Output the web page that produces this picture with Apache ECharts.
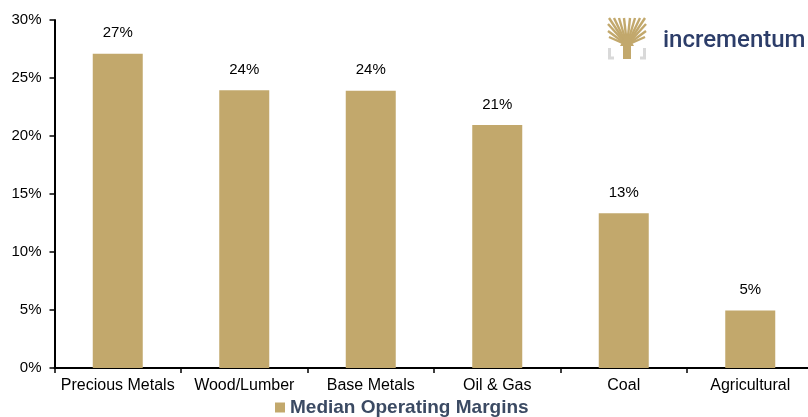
<!DOCTYPE html>
<html>
<head>
<meta charset="utf-8">
<script src="https://cdn.jsdelivr.net/npm/echarts@6/dist/echarts.min.js"></script>
<style>html,body{margin:0;padding:0;background:#fff;overflow:hidden;width:808px;height:417px;}#c{width:816px;height:417px;}</style>
</head>
<body>
<div id="c"></div>
<script>
const categories = ['Precious Metals', 'Wood/Lumber', 'Base Metals', 'Oil & Gas', 'Coal', 'Agricultural'];
const margins = [27.1, 23.95, 23.9, 20.95, 13.35, 4.95];
const seriesName = 'Median Operating Margins';
const yTicks = { min: 0, max: 30, interval: 5 };

const gold = '#C2A86C';
const chart = echarts.init(document.getElementById('c'));

// simple tree logo built from primitives
const branches = [];
const bx = 627, by = 45;
const tips = [[609,18],[614,18],[619,18],[624,18],[630,18],[635,18],[640,18],[645,18],[608,24],[646,24],[608,31],[646,31],[609,37],[645,37]];
tips.forEach(t => branches.push({
  type: 'line', shape: { x1: bx, y1: by, x2: t[0], y2: t[1] },
  style: { stroke: gold, lineWidth: 2.4 }
}));

chart.setOption({
  animation: false,
  grid: { left: 54.5, top: 20, height: 348, width: 759, containLabel: false },
  legend: {
    data: [seriesName],
    left: 275, top: 398, padding: 0,
    icon: 'rect', itemWidth: 10, itemHeight: 10, itemGap: 5,
    textStyle: { fontFamily: 'Liberation Sans, Arial', fontSize: 19, fontWeight: 'bold', color: '#3B4A63', padding: [0,0,0,0] }
  },
  xAxis: {
    type: 'category', data: categories,
    axisLine: { lineStyle: { color: '#000', width: 2 } },
    axisTick: { show: true, interval: 0, alignWithLabel: false, length: 5, lineStyle: { color: '#000', width: 1.5 } },
    axisLabel: { interval: 0, color: '#000', fontFamily: 'Liberation Sans, Arial', fontSize: 16, margin: 10 }
  },
  yAxis: {
    type: 'value', min: yTicks.min, max: yTicks.max, interval: yTicks.interval,
    axisLine: { show: true, lineStyle: { color: '#000', width: 2 } },
    axisTick: { show: true, length: 5, lineStyle: { color: '#000', width: 1.5 } },
    splitLine: { show: false },
    axisLabel: { color: '#000', fontFamily: 'Liberation Sans, Arial', fontSize: 15, margin: 13, formatter: v => v + '%' }
  },
  series: [{
    name: seriesName, type: 'bar', data: margins, barWidth: 50,
    itemStyle: { color: gold },
    label: { show: true, position: 'top', distance: 13, color: '#000', fontFamily: 'Liberation Sans, Arial', fontSize: 15,
      formatter: p => Math.round(p.value) + '%' }
  }],
  graphic: [
    { type: 'group', children: branches.concat([
      { type: 'polygon', shape: { points: [[620,46],[634,46],[627,34]] }, style: { fill: gold } },
      { type: 'rect', shape: { x: 623, y: 40, width: 8, height: 19 }, style: { fill: gold } },
      { type: 'polyline', shape: { points: [[609.5,48],[609.5,58],[614,58]] }, style: { stroke: '#D9D9D9', lineWidth: 3, fill: null } },
      { type: 'polyline', shape: { points: [[644.5,48],[644.5,58],[640,58]] }, style: { stroke: '#D9D9D9', lineWidth: 3, fill: null } }
    ]) },
    { type: 'text', x: 663, y: 41,
      style: { text: 'incrementum', fill: '#2C3D69', font: '500 24px Roboto, "Liberation Sans", Arial', textVerticalAlign: 'middle' } }
  ]
});
</script>
</body>
</html>
